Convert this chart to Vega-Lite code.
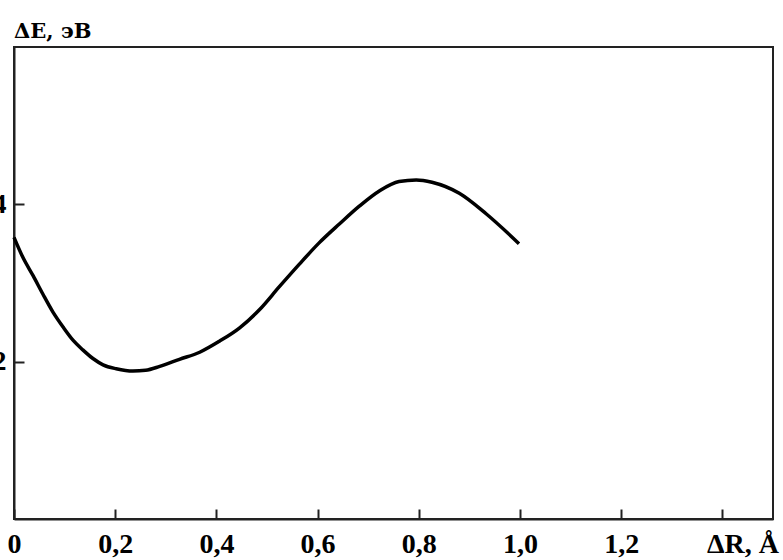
{
  "$schema": "https://vega.github.io/schema/vega-lite/v6.json",
  "autosize": {"type": "none"},
  "padding": {"left": 14, "top": 47, "right": 10, "bottom": 41},
  "width": 759,
  "height": 472,
  "background": "white",
  "title": {
    "text": "ΔE, эВ",
    "anchor": "start",
    "frame": "group",
    "font": "DejaVu Serif",
    "fontWeight": "bold",
    "fontSize": 21,
    "color": "black",
    "baseline": "alphabetic",
    "offset": -12
  },
  "config": {
    "view": {"stroke": "#222", "strokeWidth": 2},
    "axis": {
      "grid": false,
      "domainColor": "#222",
      "domainWidth": 2,
      "tickColor": "#222",
      "tickWidth": 2,
      "tickSize": -10,
      "labelFont": "Liberation Serif",
      "labelFontWeight": "bold",
      "labelFontSize": 28,
      "labelColor": "black",
      "title": null
    }
  },
  "data": {
    "values": [
      {"dR": 0.0, "dE": 3.58},
      {"dR": 0.018, "dE": 3.32},
      {"dR": 0.038, "dE": 3.09},
      {"dR": 0.057, "dE": 2.86},
      {"dR": 0.077, "dE": 2.63},
      {"dR": 0.097, "dE": 2.44},
      {"dR": 0.117, "dE": 2.27},
      {"dR": 0.136, "dE": 2.15},
      {"dR": 0.156, "dE": 2.04},
      {"dR": 0.176, "dE": 1.96},
      {"dR": 0.202, "dE": 1.91},
      {"dR": 0.235, "dE": 1.88},
      {"dR": 0.260, "dE": 1.89},
      {"dR": 0.288, "dE": 1.94},
      {"dR": 0.327, "dE": 2.03},
      {"dR": 0.367, "dE": 2.12},
      {"dR": 0.406, "dE": 2.26},
      {"dR": 0.446, "dE": 2.43},
      {"dR": 0.485, "dE": 2.66},
      {"dR": 0.524, "dE": 2.95},
      {"dR": 0.564, "dE": 3.24},
      {"dR": 0.603, "dE": 3.51},
      {"dR": 0.643, "dE": 3.75},
      {"dR": 0.683, "dE": 3.98},
      {"dR": 0.722, "dE": 4.17},
      {"dR": 0.761, "dE": 4.29},
      {"dR": 0.795, "dE": 4.31},
      {"dR": 0.826, "dE": 4.28},
      {"dR": 0.880, "dE": 4.14},
      {"dR": 0.933, "dE": 3.88},
      {"dR": 0.998, "dE": 3.50}
    ]
  },
  "mark": {"type": "line", "color": "black", "strokeWidth": 3.5, "interpolate": "monotone"},
  "encoding": {
    "x": {
      "field": "dR",
      "type": "quantitative",
      "scale": {"domain": [0, 1.5], "nice": false, "zero": false},
      "axis": {
        "values": [0, 0.2, 0.4, 0.6, 0.8, 1.0, 1.2, 1.4],
        "labelExpr": "datum.value == 0 ? '0' : (abs(datum.value - 1.4) < 0.001 ? 'ΔR, Å' : replace(format(datum.value, '.1f'), '.', ','))",
        "labelPadding": 21,
        "labelFlush": false,
        "labelOverlap": false,
        "labelOffset": {"condition": {"test": "abs(datum.value - 1.4) < 0.001", "value": 20}, "value": 0}
      }
    },
    "y": {
      "field": "dE",
      "type": "quantitative",
      "scale": {"domain": [0, 6], "nice": false, "zero": false},
      "axis": {
        "values": [2, 4],
        "labelPadding": 18,
        "labelFlush": false
      }
    }
  }
}
